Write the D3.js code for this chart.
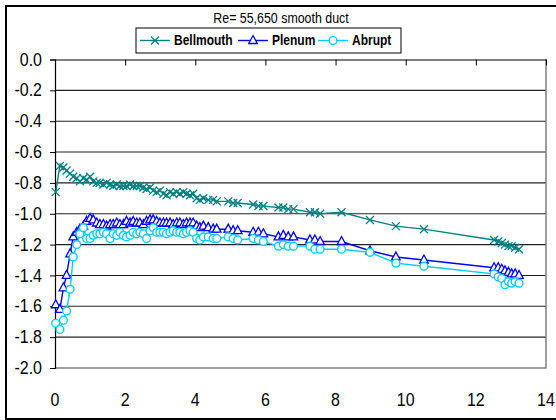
<!DOCTYPE html>
<html>
<head>
<meta charset="utf-8">
<script src="https://cdn.jsdelivr.net/npm/d3@7"></script>
<style>
    body { margin: 0; background: #fff; }
    text { font-family: "Liberation Sans", Arial, sans-serif; }
</style>
</head>
<body>
<div id="chart"></div>
<script>
// distance along the duct (x) for each pressure tap
const xPos = [0.02, 0.14, 0.24, 0.33, 0.43, 0.52, 0.62, 0.71, 0.81, 0.90,
    1.00, 1.09, 1.19, 1.28, 1.38, 1.47, 1.57, 1.66, 1.76, 1.85,
    1.95, 2.04, 2.14, 2.23, 2.33, 2.42, 2.52, 2.61, 2.71, 2.80,
    2.90, 2.99, 3.09, 3.18, 3.28, 3.37, 3.47, 3.56, 3.66, 3.75,
    3.85, 3.94, 4.04, 4.13, 4.23, 4.37, 4.51, 4.61, 4.94, 5.08,
    5.21, 5.65, 5.80, 5.94, 6.37, 6.51, 6.65, 6.80, 7.27, 7.41,
    7.56, 8.17, 8.98, 9.72, 10.52, 12.52, 12.64, 12.74, 12.83, 12.93,
    13.02, 13.12, 13.23];

const bellmouth = [-0.86, -0.69, -0.70, -0.72, -0.74, -0.76, -0.77, -0.79, -0.77, -0.78,
    -0.76, -0.79, -0.80, -0.80, -0.81, -0.80, -0.81, -0.82, -0.81, -0.82,
    -0.82, -0.82, -0.81, -0.82, -0.82, -0.82, -0.83, -0.84, -0.83, -0.85,
    -0.86, -0.85, -0.87, -0.88, -0.86, -0.87, -0.86, -0.87, -0.86, -0.87,
    -0.88, -0.87, -0.90, -0.91, -0.90, -0.91, -0.91, -0.92, -0.92, -0.93,
    -0.93, -0.94, -0.95, -0.95, -0.96, -0.96, -0.97, -0.97, -0.99, -0.99,
    -1.00, -0.99, -1.04, -1.08, -1.10, -1.17, -1.18, -1.19, -1.20, -1.21,
    -1.21, -1.22, -1.23];

const plenum = [-1.59, -1.62, -1.48, -1.40, -1.26, -1.15, -1.12, -1.10, -1.08, -1.05,
    -1.03, -1.04, -1.06, -1.07, -1.07, -1.08, -1.07, -1.07, -1.06, -1.07,
    -1.07, -1.05, -1.06, -1.05, -1.06, -1.06, -1.07, -1.05, -1.04, -1.04,
    -1.05, -1.06, -1.06, -1.06, -1.06, -1.07, -1.06, -1.06, -1.07, -1.06,
    -1.06, -1.06, -1.08, -1.09, -1.08, -1.09, -1.10, -1.10, -1.10, -1.11,
    -1.11, -1.12, -1.12, -1.13, -1.15, -1.14, -1.15, -1.15, -1.17, -1.17,
    -1.18, -1.18, -1.24, -1.28, -1.30, -1.35, -1.35, -1.36, -1.37, -1.38,
    -1.39, -1.39, -1.40];

const abrupt = [-1.71, -1.75, -1.69, -1.63, -1.49, -1.28, -1.20, -1.13, -1.09, -1.16,
    -1.16, -1.14, -1.13, -1.13, -1.12, -1.13, -1.16, -1.13, -1.14, -1.12,
    -1.14, -1.15, -1.14, -1.12, -1.13, -1.12, -1.13, -1.16, -1.11, -1.09,
    -1.12, -1.12, -1.12, -1.13, -1.12, -1.11, -1.12, -1.12, -1.13, -1.12,
    -1.11, -1.12, -1.16, -1.17, -1.15, -1.15, -1.16, -1.16, -1.15, -1.16,
    -1.17, -1.16, -1.17, -1.18, -1.21, -1.20, -1.21, -1.21, -1.21, -1.23,
    -1.23, -1.23, -1.25, -1.32, -1.34, -1.39, -1.41, -1.42, -1.46, -1.44,
    -1.45, -1.44, -1.45];

const seriesNames = ["Bellmouth", "Plenum", "Abrupt"];
const xTicks = [0, 2, 4, 6, 8, 10, 12, 14];
const yTicks = [0, -0.2, -0.4, -0.6, -0.8, -1.0, -1.2, -1.4, -1.6, -1.8, -2.0];
const titleText = "Re= 55,650 smooth duct";

const width = 556;
const height = 420;
const plot = {left: 55, right: 546, top: 59.5, bottom: 368};
const stretch = 1.15;   // the original text is drawn a bit taller than wide

const colors = {Bellmouth: "#008080", Plenum: "#0000ff", Abrupt: "#00ccff"};
const shapes = {Bellmouth: "cross", Plenum: "triangle", Abrupt: "circle"};

const svg = d3.select("#chart")
    .append("svg")
    .attr("width", width)
    .attr("height", height);

svg.append("rect")
    .attr("width", width)
    .attr("height", height)
    .attr("fill", "#fff");

// chart border (runs off the right edge like the original)
svg.append("rect")
    .attr("x", 6)
    .attr("y", 6)
    .attr("width", 600)
    .attr("height", 413)
    .attr("fill", "none")
    .attr("stroke", "#000")
    .attr("stroke-width", 2);

const xScale = d3.scaleLinear()
    .domain([0, 14])
    .range([plot.left, plot.right]);

const yScale = d3.scaleLinear()
    .domain([-2, 0])
    .range([plot.bottom, plot.top]);

// gridlines
svg.append("g")
    .selectAll("line")
    .data(yTicks.filter(function(d) { return d < 0 && d > -2; }))
    .enter()
    .append("line")
        .attr("x1", plot.left)
        .attr("x2", plot.right)
        .attr("y1", function(d) { return yScale(d); })
        .attr("y2", function(d) { return yScale(d); })
        .attr("stroke", "#222")
        .attr("stroke-width", 1.1);

// plot area border, right and bottom
svg.append("path")
    .attr("d", `M${plot.right},${plot.top}V${plot.bottom}H${plot.left}`)
    .attr("fill", "none")
    .attr("stroke", "#808080")
    .attr("stroke-width", 1.5);

// y axis
const fmt = function(d) { return d3.format(".1f")(d).replace("\u2212", "-"); };

const yAxis = svg.append("g")
    .attr("transform", `translate(${plot.left},0)`)
    .call(d3.axisLeft(yScale).tickValues(yTicks).tickSize(5).tickPadding(8).tickFormat(fmt));

yAxis.selectAll("text")
    .attr("font-size", 16)
    .attr("fill", "#000")
    .attr("dy", null)
    .attr("y", 5.6 / stretch)
    .attr("transform", `scale(1,${stretch})`);
yAxis.selectAll("line, path").attr("stroke", "#000");
yAxis.select(".domain").attr("stroke-width", 1.2);

// x axis line sits at y = 0 (top), ticks point down
const xAxis = svg.append("g")
    .attr("transform", `translate(0,${plot.top})`)
    .call(d3.axisBottom(xScale).tickValues(xTicks).tickSize(6).tickSizeOuter(0).tickFormat(""));
xAxis.selectAll("line, path").attr("stroke", "#000");
xAxis.select(".domain").attr("stroke-width", 1.2);

// x tick labels at the bottom
svg.append("g")
    .selectAll("text")
    .data(xTicks)
    .enter()
    .append("text")
        .attr("transform", function(d) { return `translate(${xScale(d)},406) scale(1,${stretch})`; })
        .attr("text-anchor", "middle")
        .attr("font-size", 16)
        .text(function(d) { return d; });

// series
const series = [
    {name: "Bellmouth", values: bellmouth},
    {name: "Plenum", values: plenum},
    {name: "Abrupt", values: abrupt}
];

const line = d3.line()
    .x(function(d, i) { return xScale(xPos[i]); })
    .y(function(d) { return yScale(d); });

function drawMarker(g, shape, color) {
    if (shape === "cross") {
        g.append("path")
            .attr("d", "M-4,-4L4,4M-4,4L4,-4")
            .attr("stroke", color)
            .attr("stroke-width", 1.3)
            .attr("fill", "none");
    } else if (shape === "triangle") {
        g.append("path")
            .attr("d", "M0,-5L4.3,3L-4.3,3Z")
            .attr("stroke", color)
            .attr("stroke-width", 1.3)
            .attr("fill", "#fff");
    } else {
        g.append("circle")
            .attr("r", 3.9)
            .attr("stroke", color)
            .attr("stroke-width", 1.4)
            .attr("fill", "#fff");
    }
}

series.forEach(function(s) {
    const g = svg.append("g");
    g.append("path")
        .attr("d", line(s.values))
        .attr("fill", "none")
        .attr("stroke", colors[s.name])
        .attr("stroke-width", 1.4);

    g.selectAll("g")
        .data(s.values)
        .enter()
        .append("g")
            .attr("transform", function(d, i) { return `translate(${xScale(xPos[i])},${yScale(d)})`; })
            .each(function() { drawMarker(d3.select(this), shapes[s.name], colors[s.name]); });
});

// title
svg.append("text")
    .attr("transform", `translate(281,22.7) scale(1,${stretch})`)
    .attr("text-anchor", "middle")
    .attr("font-size", 12.4)
    .text(titleText);

// legend
const legend = svg.append("g");
legend.append("rect")
    .attr("x", 136)
    .attr("y", 28)
    .attr("width", 265)
    .attr("height", 25)
    .attr("fill", "#fff")
    .attr("stroke", "#000")
    .attr("stroke-width", 1);

const legendX = {Bellmouth: 140, Plenum: 238, Abrupt: 318};
seriesNames.forEach(function(name) {
    const x0 = legendX[name];
    legend.append("line")
        .attr("x1", x0)
        .attr("x2", x0 + 30)
        .attr("y1", 40.5)
        .attr("y2", 40.5)
        .attr("stroke", colors[name])
        .attr("stroke-width", 1.4);
    const m = legend.append("g").attr("transform", `translate(${x0 + 15},40.5)`);
    drawMarker(m, shapes[name], colors[name]);
    legend.append("text")
        .attr("transform", `translate(${x0 + 34},45) scale(1,${stretch})`)
        .attr("font-size", 12)
        .attr("font-weight", "bold")
        .text(name);
});
</script>
</body>
</html>
